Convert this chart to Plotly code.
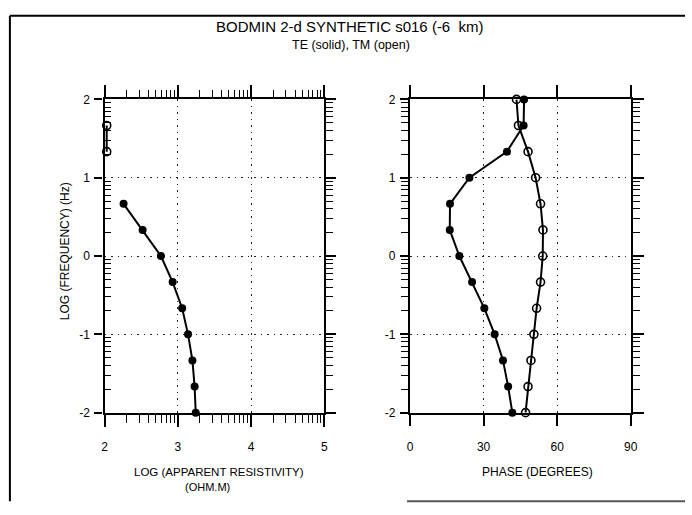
import math
import plotly.graph_objects as go

# ---------------- data ----------------
log_freq = [2, 1.667, 1.333, 1, 0.667, 0.333, 0, -0.333, -0.667, -1, -1.333, -1.667, -2]
te_rho = [None, None, None, None, 2.26, 2.52, 2.77, 2.93, 3.06, 3.14, 3.20, 3.23, 3.245]
tm_rho = [None, 2.03, 2.03, None, None, None, None, None, None, None, None, None, None]
te_phase = [46.5, 46.3, 39.5, 24.2, 16.3, 16.2, 20.1, 25.3, 30.3, 34.5, 37.9, 40.0, 41.7]
tm_phase = [43.4, 44.2, 48.1, 51.2, 53.2, 54.2, 54.1, 53.2, 51.6, 50.5, 49.3, 48.1, 47.1]

rho_ticks = [2, 3, 4, 5]
phase_ticks = [0, 30, 60, 90]
freq_ticks = [2, 1, 0, -1, -2]
freq_ticktext = ["2", "1", "0", "-1", "-2"]

title = "BODMIN 2-d SYNTHETIC s016 (-6  km)"
subtitle = "TE (solid), TM (open)"

W, H = 692, 515


def px(x):
    return x / W


def py(y):
    return 1 - y / H


def log_minor(lo, hi):
    vals = []
    for n in range(lo, hi):
        for k in range(2, 10):
            vals.append(n + math.log10(k))
    return vals


rho_minor = log_minor(2, 5)
freq_minor = log_minor(-2, 2)

FONT = "Liberation Sans, Arial, sans-serif"
LC = "black"

xdom1 = [px(103), px(326)]
xdom2 = [px(413), px(637)]
ydom = [py(417), py(95)]

fig = go.Figure()

line_style = dict(color=LC, width=2)
fig.add_trace(go.Scatter(x=te_rho, y=log_freq, mode="lines+markers", xaxis="x", yaxis="y",
                         line=line_style, marker=dict(symbol="circle", size=8, color=LC),
                         connectgaps=False, cliponaxis=False, showlegend=False))
fig.add_trace(go.Scatter(x=tm_rho, y=log_freq, mode="lines+markers", xaxis="x", yaxis="y",
                         line=line_style,
                         marker=dict(symbol="circle-open", size=8, color=LC, line=dict(width=1.6)),
                         connectgaps=False, cliponaxis=False, showlegend=False))
fig.add_trace(go.Scatter(x=te_phase, y=log_freq, mode="lines+markers", xaxis="x2", yaxis="y2",
                         line=line_style, marker=dict(symbol="circle", size=8, color=LC),
                         cliponaxis=False, showlegend=False))
fig.add_trace(go.Scatter(x=tm_phase, y=log_freq, mode="lines+markers", xaxis="x2", yaxis="y2",
                         line=line_style,
                         marker=dict(symbol="circle-open", size=8, color=LC, line=dict(width=1.6)),
                         cliponaxis=False, showlegend=False))
# dummy traces for the mirror (top/right) axes
fig.add_trace(go.Scatter(x=[], y=[], xaxis="x3", yaxis="y3", showlegend=False, hoverinfo="skip"))
fig.add_trace(go.Scatter(x=[], y=[], xaxis="x4", yaxis="y4", showlegend=False, hoverinfo="skip"))

grid = dict(showgrid=True, gridcolor="#222", gridwidth=1.2, griddash="1.5px,5px")
tickfont = dict(family=FONT, size=12, color=LC)
common = dict(showline=True, linecolor=LC, linewidth=2.4, zeroline=False, tickcolor=LC,
              tickwidth=1.6, tickfont=tickfont)
mt = dict(tickwidth=1.4, tickcolor=LC, showgrid=False, tickmode="array")

fig.update_layout(
    width=W, height=H, margin=dict(l=0, r=0, t=0, b=0),
    paper_bgcolor="white", plot_bgcolor="white",
    font=dict(family=FONT, color=LC),
    xaxis=dict(domain=xdom1, anchor="y", range=[2, 5], tickmode="array", tickvals=rho_ticks,
               ticks="outside", ticklen=12, ticklabelstandoff=10,
               minor=dict(tickvals=rho_minor, ticks="outside", ticklen=8, **mt),
               **grid, **common),
    xaxis3=dict(overlaying="x", anchor="y", side="top", range=[2, 5], tickmode="array",
                tickvals=rho_ticks, ticks="outside", ticklen=12, showticklabels=False,
                minor=dict(tickvals=rho_minor, ticks="outside", ticklen=7, **mt),
                showgrid=False, **common),
    yaxis=dict(domain=ydom, anchor="x", range=[-2, 2], tickmode="array", tickvals=freq_ticks,
               ticktext=freq_ticktext, ticks="outside", ticklen=8, ticklabelstandoff=2,
               minor=dict(tickvals=freq_minor, ticks="inside", ticklen=6, **mt),
               **grid, **common),
    yaxis3=dict(overlaying="y", anchor="x", side="right", range=[-2, 2], tickmode="array",
                tickvals=freq_ticks, ticks="outside", ticklen=10, showticklabels=False,
                minor=dict(tickvals=freq_minor, ticks="outside", ticklen=7, **mt),
                showgrid=False, **common),
    xaxis2=dict(domain=xdom2, anchor="y2", range=[0, 90], tickmode="array", tickvals=phase_ticks,
                ticks="outside", ticklen=11, ticklabelstandoff=11, **grid, **common),
    xaxis4=dict(overlaying="x2", anchor="y2", side="top", range=[0, 90], tickmode="array",
                tickvals=phase_ticks, ticks="outside", ticklen=12, showticklabels=False,
                showgrid=False, **common),
    yaxis2=dict(domain=ydom, anchor="x2", range=[-2, 2], tickmode="array", tickvals=freq_ticks,
                ticktext=freq_ticktext, ticks="outside", ticklen=8, ticklabelstandoff=2,
                minor=dict(tickvals=freq_minor, ticks="outside", ticklen=7, **mt),
                **grid, **common),
    yaxis4=dict(overlaying="y2", anchor="x2", side="right", range=[-2, 2], tickmode="array",
                tickvals=freq_ticks, ticks="outside", ticklen=11, showticklabels=False,
                minor=dict(tickvals=freq_minor, ticks="outside", ticklen=7, **mt),
                showgrid=False, **common),
)

ann = [
    dict(text=title, x=px(352), y=py(20), font=dict(size=15)),
    dict(text=subtitle, x=px(353), y=py(39), font=dict(size=12.5)),
    dict(text="LOG (APPARENT RESISTIVITY)", x=px(219), y=py(478), font=dict(size=11.5)),
    dict(text="(OHM.M)", x=px(208), y=py(493), font=dict(size=11)),
    dict(text="PHASE (DEGREES)", x=px(542), y=py(478), font=dict(size=12)),
    dict(text="LOG (FREQUENCY) (Hz)", x=px(63), y=py(251), font=dict(size=12), textangle=-90),
]
for a in ann:
    fig.add_annotation(xref="paper", yref="paper", showarrow=False, xanchor="center",
                       yanchor="middle", font_family=FONT, font_color=LC, **a)

# outer frame of the scanned page
fig.add_shape(type="line", xref="paper", yref="paper", x0=px(7), x1=1.0, y0=py(9), y1=py(9),
              line=dict(color=LC, width=2))
fig.add_shape(type="line", xref="paper", yref="paper", x0=px(7), x1=px(7), y0=py(9), y1=py(508),
              line=dict(color=LC, width=2))
fig.add_shape(type="line", xref="paper", yref="paper", x0=px(410), x1=1.0, y0=py(508), y1=py(508),
              line=dict(color="#555", width=2))

fig.write_html("out.html")
